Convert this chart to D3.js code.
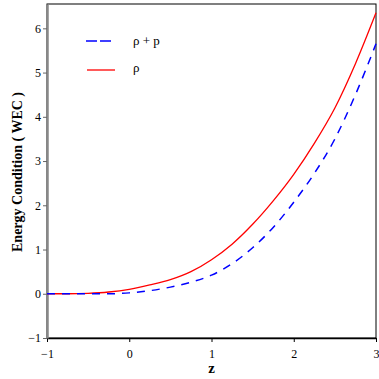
<!DOCTYPE html>
<html>
<head>
<meta charset="utf-8">
<script src="https://cdn.jsdelivr.net/npm/d3@7"></script>
<style>
  body { margin: 0; background: #fff; }
  svg text { font-family: "Liberation Serif", "Times New Roman", serif; }
</style>
</head>
<body>
<svg id="chart" width="379" height="379"></svg>
<script>
// redshift values
const zVals = [-1, -0.75, -0.5, -0.25, 0, 0.25, 0.5, 0.75, 1, 1.25, 1.5, 1.75, 2, 2.25, 2.5, 2.75, 3];
// rho
const rhoVals = [0, 0, 0.01, 0.04, 0.1, 0.2, 0.32, 0.5, 0.77, 1.12, 1.57, 2.1, 2.7, 3.4, 4.2, 5.2, 6.35];
// rho + p
const rhoPVals = [0, 0, 0, 0, 0.02, 0.07, 0.15, 0.26, 0.42, 0.68, 1.04, 1.5, 2.07, 2.72, 3.5, 4.5, 5.65];

const xTicks = [-1, 0, 1, 2, 3];
const yTicks = [-1, 0, 1, 2, 3, 4, 5, 6];

const margin = { left: 47, right: 3, top: 4, bottom: 41 };
const W = 379, H = 379;

const svg = d3.select("#chart");

const x = d3.scaleLinear().domain([-1, 3]).range([margin.left, W - margin.right]);
const y = d3.scaleLinear().domain([-1, 6.55]).range([H - margin.bottom, margin.top]);

const fmt = d => d < 0 ? "\u2212" + Math.abs(d) : "" + d;

// frame (top + right)
svg.append("rect")
    .attr("x", x(-1)).attr("y", y(6.55))
    .attr("width", x(3) - x(-1)).attr("height", y(-1) - y(6.55))
    .attr("fill", "none").attr("stroke", "#000").attr("stroke-width", 1);

// x axis
let xAxis = svg.append("g")
    .attr("transform", "translate(0," + y(-1) + ")")
    .call(d3.axisBottom(x).tickValues(xTicks).tickFormat(fmt).tickSize(4).tickSizeOuter(0));
xAxis.select(".domain").attr("stroke", "#000").attr("stroke-width", 1.5);
xAxis.selectAll("text").attr("font-size", 12).attr("dy", "1.05em");

// y axis
let yAxis = svg.append("g")
    .attr("transform", "translate(" + x(-1) + ",0)")
    .call(d3.axisLeft(y).tickValues(yTicks).tickFormat(fmt).tickSize(4).tickSizeOuter(0));
yAxis.select(".domain").attr("stroke", "#888").attr("stroke-width", 2.5);
yAxis.selectAll(".tick line").attr("stroke", "#666");
yAxis.selectAll("text").attr("font-size", 12).attr("x", -6);

// axis labels
svg.append("text")
    .attr("x", x(1)).attr("y", 373)
    .attr("text-anchor", "middle")
    .attr("font-size", 15).attr("font-weight", "bold")
    .text("z");

svg.append("text")
    .attr("transform", "translate(22,172) rotate(-90)")
    .attr("text-anchor", "middle")
    .attr("font-size", 14).attr("font-weight", "bold")
    .text("Energy Condition ( WEC )");

const line = d3.line().curve(d3.curveMonotoneX);

svg.append("path")
    .attr("d", line(zVals.map((z, i) => [x(z), y(rhoVals[i])])))
    .attr("fill", "none").attr("stroke", "#ff0000").attr("stroke-width", 1.3);

svg.append("path")
    .attr("d", line(zVals.map((z, i) => [x(z), y(rhoPVals[i])])))
    .attr("fill", "none").attr("stroke", "#0000ff").attr("stroke-width", 1.5)
    .attr("stroke-dasharray", "8,7");

// legend
let legend = svg.append("g");
legend.append("line")
    .attr("x1", 86).attr("x2", 112).attr("y1", 41).attr("y2", 41)
    .attr("stroke", "#0000ff").attr("stroke-width", 1.5).attr("stroke-dasharray", "11,3");
legend.append("text")
    .attr("x", 133).attr("y", 45)
    .attr("font-family", "'Liberation Sans', Arial, sans-serif")
    .attr("font-size", 13)
    .text("\u03C1 + p");
legend.append("line")
    .attr("x1", 87).attr("x2", 115).attr("y1", 70).attr("y2", 70)
    .attr("stroke", "#ff0000").attr("stroke-width", 1.3);
legend.append("text")
    .attr("x", 133).attr("y", 72)
    .attr("font-family", "'Liberation Sans', Arial, sans-serif")
    .attr("font-size", 13)
    .text("\u03C1");
</script>
</body>
</html>
